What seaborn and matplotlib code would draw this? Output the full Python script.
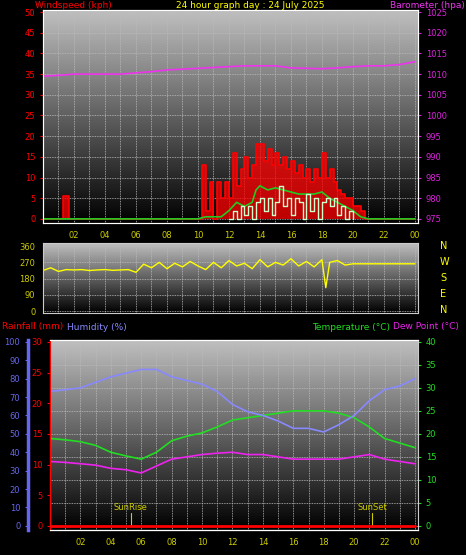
import numpy as np
import matplotlib
matplotlib.use("Agg")
import matplotlib.pyplot as plt
import seaborn as sns

# ---- data ----
baro_hours = [0, 1, 2, 3, 4, 5, 6, 7, 8, 9, 10, 11, 12, 13, 14, 15, 16, 17, 18, 19, 20, 21, 22, 23, 24]
baro = [1009.5, 1009.7, 1010, 1010, 1010, 1010, 1010.3, 1010.6, 1011, 1011.2, 1011.4, 1011.6, 1011.8, 1012,
        1012, 1012, 1011.5, 1011.4, 1011.3, 1011.5, 1011.8, 1012, 1012, 1012.3, 1013]

gust_hours = [0, 1.25, 1.3, 1.6, 1.65, 10.0, 10.25, 10.5, 10.75, 11.0, 11.25, 11.5, 11.75, 12.0, 12.25, 12.5,
              12.75, 13.0, 13.25, 13.5, 13.75, 14.0, 14.25, 14.5, 14.75, 15.0, 15.25, 15.5, 15.75, 16.0, 16.25,
              16.5, 16.75, 17.0, 17.25, 17.5, 17.75, 18.0, 18.25, 18.5, 18.75, 19.0, 19.25, 19.5, 19.75, 20.0,
              20.25, 20.5, 20.75, 24]
gust = [0, 0, 5.5, 5.5, 0, 0, 13, 2, 9, 0, 9, 5, 9, 5, 16, 8, 12, 15, 10, 13, 18, 18, 14, 17, 13, 16, 13, 15,
        12, 14, 11, 13, 10, 12, 9, 12, 10, 16, 10, 12, 9, 7, 6, 5, 5, 3, 3, 2, 0, 0]

avg_hours = [0, 10, 10.5, 11, 11.5, 12, 12.5, 13, 13.5, 13.75, 14, 14.5, 15, 15.5, 16, 16.5, 17, 17.5, 18,
             18.5, 19, 19.5, 20, 20.5, 21, 24]
avg = [0, 0, 0.5, 0.5, 0.5, 2, 4, 3, 4, 7, 8, 7, 7.5, 7, 6.5, 6, 6, 6, 6.5, 5, 4, 3, 2, 0.5, 0, 0]

spd_hours = [12, 12.25, 12.5, 12.75, 13, 13.25, 13.5, 13.75, 14, 14.25, 14.5, 14.75, 15, 15.25, 15.5, 15.75,
             16, 16.25, 16.5, 16.75, 17, 17.25, 17.5, 17.75, 18, 18.25, 18.5, 18.75, 19, 19.25, 19.5, 19.75, 20]
spd = [0, 2, 0, 3, 1, 3, 0, 4, 5, 2, 5, 1, 4, 8, 3, 5, 1, 5, 4, 0, 6, 2, 5, 0, 4, 5, 3, 5, 1, 3, 0, 2, 0]

dir_hours = [0, 0.5, 1, 1.5, 2, 2.5, 3, 3.5, 4, 4.5, 5, 5.5, 6, 6.5, 7, 7.5, 8, 8.5, 9, 9.5, 10, 10.5, 11,
             11.5, 12, 12.5, 13, 13.5, 14, 14.5, 15, 15.5, 16, 16.5, 17, 17.5, 18, 18.25, 18.5, 19, 19.5, 20,
             20.5, 21, 22, 23, 24]
direction = [225, 240, 220, 230, 228, 230, 225, 228, 230, 226, 228, 230, 215, 260, 240, 270, 235, 265, 245,
             275, 250, 230, 270, 240, 280, 250, 265, 235, 285, 245, 270, 255, 290, 250, 275, 245, 285, 130,
             270, 280, 255, 262, 262, 262, 262, 262, 262]

th_hours = [0, 1, 2, 3, 4, 5, 6, 7, 8, 9, 10, 11, 12, 13, 14, 15, 16, 17, 18, 19, 20, 21, 22, 23, 24]
humidity = [73, 74, 75, 78, 81, 83, 85, 85, 81, 79, 77, 73, 66, 62, 60, 57, 53, 53, 51, 55, 60, 68, 74, 76, 80]
temperature = [19, 18.7, 18.3, 17.5, 16, 15.2, 14.5, 16, 18.5, 19.5, 20.2, 21.5, 23, 23.5, 24, 24.5, 25, 25,
               25, 24.5, 23.5, 21.5, 19, 18, 17]
dewpoint = [14, 13.8, 13.5, 13.2, 12.5, 12.2, 11.5, 13, 14.5, 15, 15.5, 15.8, 16, 15.5, 15.5, 15, 14.5, 14.5,
            14.5, 14.5, 15, 15.5, 14.5, 14, 13.5]
rain_hours = [0, 24]
rain = [0, 0]

hour_ticks = list(range(2, 25, 2))
hour_labels = ["%02d" % (h % 24) for h in hour_ticks]

YEL = "#cccc00"
sns.set_style("dark")
plt.rcParams["font.family"] = ["DejaVu Sans"]

fig = plt.figure(figsize=(4.66, 5.55), dpi=100, facecolor="black")
grad = np.linspace(0.75, 0.0, 256).reshape(-1, 1)


def prep(ax, ylim, yticks):
    ax.set_xlim(0, 24.2)
    ax.set_ylim(*ylim)
    ax.imshow(grad, extent=[0, 24.2, ylim[0], ylim[1]], aspect="auto", cmap="gray", vmin=0, vmax=1, zorder=0)
    for h in range(1, 25):
        ax.axvline(h, color="#bbbbbb", lw=0.6, ls=(0, (1, 1)), zorder=1)
    for y in yticks:
        ax.axhline(y, color="#bbbbbb", lw=0.6, ls=(0, (1, 1)), zorder=1)
    ax.set_facecolor("black")
    for s in ax.spines.values():
        s.set_color("#cccccc")
    ax.tick_params(labelsize=6, length=2, colors="#cccccc")
    ax.set_xticks(hour_ticks)
    ax.set_xticklabels(hour_labels, color=YEL)


# ---- wind / barometer ----
ax1 = fig.add_axes([43 / 466, 1 - 223 / 555, 375 / 466, 213 / 555])
prep(ax1, (-1, 50.5), range(0, 51, 5))
ax1.set_yticks(range(0, 51, 5))
ax1.tick_params(axis="y", labelcolor="red", colors="red")
ax1.fill_between(gust_hours, gust, step="post", color="red", alpha=0.75, lw=0, zorder=2)
ax1.step(gust_hours, gust, where="post", color="red", lw=1.2, zorder=3)
sns.lineplot(x=avg_hours, y=avg, ax=ax1, color="#22cc22", lw=1.2, zorder=4)
ax1.step(spd_hours, spd, where="post", color="#ccffcc", lw=1, zorder=5)
ax1b = ax1.twinx()
ax1b.set_ylim(974, 1025.5)
ax1b.set_yticks(range(975, 1026, 5))
ax1b.tick_params(labelsize=6, length=2, colors="#dd22dd")
sns.lineplot(x=baro_hours, y=baro, ax=ax1b, color="#ee33ee", lw=1.2)

fig.text(35 / 466, 1 - 5 / 555, "Windspeed (kph)", color="red", fontsize=6.5, va="center")
fig.text(250 / 466, 1 - 5 / 555, "24 hour graph day : 24 July 2025", color="yellow", fontsize=6.5, ha="center", va="center")
fig.text(465 / 466, 1 - 5 / 555, "Barometer (hpa)", color="#ee33ee", fontsize=6.5, ha="right", va="center")

# ---- wind direction ----
ax2 = fig.add_axes([43 / 466, 1 - 313 / 555, 375 / 466, 70 / 555])
prep(ax2, (-10, 377), range(0, 361, 90))
ax2.set_yticks(range(0, 361, 90))
ax2.tick_params(axis="y", labelcolor=YEL)
ax2.set_xticklabels([])
sns.lineplot(x=dir_hours, y=direction, ax=ax2, color="yellow", lw=1)
for i, c in enumerate("NWSEN"):
    fig.text(440 / 466, 1 - (246 + i * 16) / 555, c, color="yellow", fontsize=7, va="center")

# ---- temperature / humidity / rain ----
ax3 = fig.add_axes([50 / 466, 1 - 530 / 555, 368 / 466, 190 / 555])
prep(ax3, (-0.9, 40.4), range(0, 41, 5))
sns.lineplot(x=th_hours, y=temperature, ax=ax3, color="#22dd22", lw=1.2, zorder=4)
sns.lineplot(x=th_hours, y=dewpoint, ax=ax3, color="#ee22ee", lw=1.2, zorder=4)
ax3.text(5.3, 3.5, "SunRise", color=YEL, fontsize=6, ha="center")
ax3.text(21.2, 3.5, "SunSet", color=YEL, fontsize=6, ha="center")
ax3.axvline(5.3, ymin=0.02, ymax=0.09, color=YEL, lw=0.8, zorder=5)
ax3.axvline(21.2, ymin=0.02, ymax=0.09, color=YEL, lw=0.8, zorder=5)

ax3h = ax3.twinx()
ax3h.set_ylim(-100 * 0.9 / 40, 100 * 40.4 / 40)
ax3h.yaxis.tick_left()
ax3h.spines["left"].set_position(("axes", -0.06))
ax3h.spines["left"].set_color("#6666ee")
ax3h.spines["left"].set_linewidth(2.5)
ax3h.set_yticks(range(0, 101, 10))
ax3h.tick_params(labelsize=6, length=2, colors="#6666ee")
sns.lineplot(x=th_hours, y=humidity, ax=ax3h, color="#8888ff", lw=1.2)

ax3r = ax3.twinx()
ax3r.set_ylim(-30 * 0.9 / 40, 30 * 40.4 / 40)
ax3r.yaxis.tick_left()
ax3r.set_yticks(range(0, 31, 5))
ax3r.tick_params(labelsize=6, length=2, colors="red")
ax3r.spines["left"].set_color("red")
sns.lineplot(x=rain_hours, y=rain, ax=ax3r, color="red", lw=2)
for a in (ax3h, ax3r):
    a.spines["right"].set_visible(False)

# temperature scale on the right, set after the twins are made
ax3.yaxis.tick_right()
ax3.set_yticks(range(0, 41, 5))
ax3.tick_params(axis="y", labelcolor="#22dd22", colors="#22dd22", labelleft=False, left=False)

fig.text(2 / 466, 1 - 327 / 555, "Rainfall (mm)", color="red", fontsize=6.5, va="center")
fig.text(67 / 466, 1 - 327 / 555, "Humidity (%)", color="#8888ff", fontsize=6.5, va="center")
fig.text(312 / 466, 1 - 327 / 555, "Temperature (°C)", color="#22dd22", fontsize=6.5, va="center")
fig.text(393 / 466, 1 - 327 / 555, "Dew Point (°C)", color="#ee22ee", fontsize=6.5, va="center")

fig.savefig("out.png", dpi=100, facecolor="black")
